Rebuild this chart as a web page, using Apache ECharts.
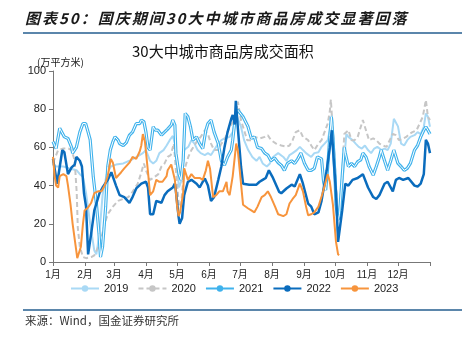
<!DOCTYPE html>
<html><head><meta charset="utf-8">
<script src="https://cdn.jsdelivr.net/npm/echarts@6/dist/echarts.min.js"></script>
<style>html,body{margin:0;padding:0;background:#fff}#c{width:462px;height:337px}</style>
</head><body><div id="c"></div>
<script>
const monthStarts = [0,31,59,90,120,151,181,212,243,273,304,334,365];
const monthLabels = ['1月','2月','3月','4月','5月','6月','7月','8月','9月','10月','11月','12月'];
const yTicks = [0,20,40,60,80,100];

const days2019 = [0,3,10,16,23,26,29,32,36,40,42,45,48,52,56,61,68,74,81,87,90,94,97,100,103,107,110,113,116,118,120,122,124,127,131,134,137,140,143,147,150,153,156,160,163,166,171,174,177,182,185,189,193,197,200,203,207,210,213,218,223,226,229,232,236,239,242,245,250,253,257,260,263,266,268,270,272,275,277,280,284,286,290,293,296,299,302,305,308,311,314,318,321,324,327,330,334,337,340,343,346,350,353,356,359,361,363,365];
const vals2019 = [51.5,50,50,49,48,46,44.6,36,20,6,4,15,35,46,50,51,51.6,53,55,57,58.6,53,51.6,53,57,58.6,61,63.8,66,62,50,39,42,58.6,60.3,63.8,62,58.6,57,56,57,56,58.6,62,63.8,64.7,65.5,68,77.8,70.8,63.8,58.6,55,53,55,51.6,50,51.6,55,57,55,53,56,57,58.6,60.3,58.6,57,55,57,57.5,60.3,62,63.8,69,77,60,30,22,40,67,65.5,63.8,62,60.3,59.4,61,58.6,57,59.4,60.3,58.6,59.4,58.6,62,75,71,62,61,63.8,65.5,66.4,68,67,70.8,77.8,76,70.8];

const days2020 = [0,5,10,15,18,21,23,24,26,29,32,37,40,44,47,50,53,58,63,68,73,77,82,85,88,90,94,97,102,105,108,111,114,117,119,122,124,127,131,134,137,140,143,147,150,153,156,160,163,166,171,176,179,182,185,188,192,195,200,205,208,211,216,221,226,229,232,235,239,242,247,250,253,257,260,266,268,269,272,275,277,280,282,286,289,292,295,298,300,303,306,310,313,316,319,323,326,329,332,335,339,342,345,348,352,355,358,361,363,365];
const vals2020 = [52,58.6,59.4,59.4,58.6,53,36,18,8,2.6,2,2.6,3.5,8,13,20,25,29,32,33,34,36.7,41,46,51.6,48,43,44,46,50,51.6,55,56,62,48,29,30,48,55,58.6,61,63.8,65.5,69,67,62,58.6,58.6,62,63.8,70.8,74.3,84,74.3,69,63.8,63.8,65.5,64.7,65.5,66.4,63.8,62,61,60.3,61,63.8,68,69,65.5,63.8,61,58.6,62,63.8,72.5,79,85,60,30,25,45,67,69,63.8,63.8,65.5,70.8,74.3,69,63.8,64.7,63.8,62,61,60.3,63.8,67,66.4,63.8,64.7,65.5,67,68,69,72.5,76,84.8,76,74.3];

const days2021 = [0,3,6.5,8,11,14.5,18,19,22.6,26,29,31.6,34,36,39,42,44.5,46,48,51,53,55.5,58,60,63,64.5,68,71,74,77,80.6,84,85.5,88,90,92,94,97,99,101.6,105,108,111,114.5,116,118,119,122,124,126,128,130.6,133,135.5,139,142,145,148,150,153,156,160,163,166,169,172.6,174,177,179,184,188.7,192,195,198,202,205,208,211,214.5,218,221,224,227,231,234,237,240,243.5,247,250,253,256,260,262,264,266,268,269.5,271,273,274,276,277.4,280,282,283,286,289,292,295,298,300,303,306,310,313,316,317.7,321,324,327,330,334,337,340,343,346,350,353,356,359,361,363,365];
const vals2021 = [63,59.4,70,69,65.5,64.7,60,57,60,68,72.5,72.5,68,64,44.6,30.6,15,2.6,8,29,50,58.6,63,65.5,63.8,62,61,62.5,66.4,68,72.5,72.5,74.3,73.5,68,60,58.6,70.8,69,69,66.4,68,69.6,71.7,74.3,71.7,57,46,43,53,77.8,76,71,63.8,65.5,62,59.4,69,72.5,74.3,68,62,53,50.7,55,58.6,63.8,78,79.5,76,71,64.7,65.5,60,59.4,57,56,53,54.5,52,50.7,48,51.6,53,51.6,54,57,51.6,48,48,49,55,54,42,37.7,50,65.6,76,65,45,30,22,25,45,60,57,50,51.6,50,52.5,53.5,57,55,50,45.5,50,55,58.6,53,48,53,58.6,51.6,50,48,49,51.6,58.6,61,65.5,69,70.8,69,67];

const days2022 = [0,4,9,11,14.5,18,21,22.6,26,28,30,32,34,35.5,37,40,45,48,53,56.5,61,64.5,69,74,77,80.6,85.5,90,92,94,97,100,105,108,111,116,118,119,121.6,122.6,125,127,130.6,134,139,142,145,147,150,153,156,160,163,166,169,172.6,174,176,177,179,182,184,190,197,200,203,206,209,213,219,221,226,231,234,239,242,247,250,253,257,260,265,268,270,271,274,276,277.4,280,283,286,290,295,300,305,310,313,316,321,324,329,332,335,339,344,350,353,356,359,361,363,365];
const vals2022 = [54,41,58.5,57.5,46,49.5,51,55,53,50,36,29,4,3,15,27,36,39,43,47,40,35,34,31,34,38.5,41,42,39,25,25,32,31,35,37,39,41,37,23.6,20,23,35,42,43,41,39,42,43.7,40,32,34,43,50,60,68,75,77,72,84.4,70,50,41,40.5,40.5,42,43,44,48,44,36.7,36,38.5,40.5,39.5,46,41,30.6,29,25,26,32,48,60,69,60,36,10.5,11,27,41,40,43,44,46,39,34,33,35,41,42,37,43,44,43,44,40,39.5,41,46,64,62,57];

const days2023 = [0,1.6,3,5,6.5,10,13,14.5,17,19,22,23.5,25,27,29,30.6,34,37,40,43.5,47,50,53,56,58,61,66,69,74,77,80.6,84,85.5,87,89,92,94,97,100,103,106,110,111,114.5,115.5,118,120,121.6,123,126,127,130.6,134,137,142,145,148,150,152,155,158,161,164.5,168,169,171,174,176,177.4,179,184,189,192,195,198,202,205,208,211,215,218,223,226,229,232,235,239,242,245,247,250,253,257,261,266,268,271,274,276,277];
const vals2023 = [55,45,40,39,45,46,45,40,30,20,8,2,1,8,20,27,28.5,31,36,37,37,40,45,54,52,44,47,49,52,55,54,58,61,67,63,47,35,37,43,42,42,45,48,51,52,43,30,24,26,36,49,43,46,44,44,43,48,53,49,34,35,37,37,42,37,35,45,55,62,58,30,28,27,26,29,34,35,37,34,29,25,24,25,30.6,33,35,41,37,29,24.5,25,26,29,36,46,42,30,10.5,4,3.5];

const headTitle = '图表50：国庆期间30大中城市商品房成交显著回落';

function pairs(d, v) { return d.map((x, i) => [x, v[i]]); }

const FONT = 'Liberation Sans, Arial, sans-serif';
const CJK = '"Noto Sans CJK SC", sans-serif';

// spaced heading, built char by char (letter spacing)
const headFont = 'italic bold 15px "Noto Sans CJK SC", sans-serif';
const ctx = document.createElement('canvas').getContext('2d');
ctx.font = headFont;
const headEls = [];
let hx = 25;
for (const ch of headTitle) {
  headEls.push({ type: 'text', x: hx, y: 18, style: { text: ch, font: headFont, fill: '#1a1a1a', textVerticalAlign: 'middle', verticalAlign: 'middle' } });
  hx += ctx.measureText(ch).width + 2;
}

const chart = echarts.init(document.getElementById('c'));
chart.setOption({
  animation: false,
  backgroundColor: '#fff',
  title: [
    { text: '30大中城市商品房成交面积', left: 132, top: 44, padding: 0,
      textStyle: { fontFamily: CJK, fontSize: 15, fontWeight: 'normal', color: '#111' } },
    { text: '(万平方米)', left: 37, top: 57, padding: 0,
      textStyle: { fontFamily: CJK, fontSize: 10, fontWeight: 'normal', color: '#222' } },
    { text: '来源：Wind，国金证券研究所', left: 25, top: 315, padding: 0,
      textStyle: { fontFamily: CJK, fontSize: 11.5, fontWeight: 'normal', color: '#333' } }
  ],
  graphic: headEls.concat([
    { type: 'rect', shape: { x: 23, y: 32, width: 439, height: 2 }, style: { fill: '#5b86ab' } },
    { type: 'rect', shape: { x: 23, y: 309, width: 439, height: 2 }, style: { fill: '#5b86ab' } }
  ]),
  grid: { left: 53, right: 32, top: 71, bottom: 75 },
  legend: {
    data: ['2019','2020','2021','2022','2023'],
    left: 70, top: 283, padding: 0, itemWidth: 28, itemHeight: 8, itemGap: 9,
    textStyle: { fontFamily: FONT, fontSize: 11, color: '#222' }
  },
  xAxis: {
    type: 'value', min: 0, max: 365,
    axisLine: { lineStyle: { color: '#777' } },
    axisTick: { show: true, customValues: monthStarts, length: 4, lineStyle: { color: '#777' } },
    axisLabel: {
      customValues: monthStarts.slice(0, 12),
      formatter: v => monthLabels[monthStarts.indexOf(v)] || '',
      fontFamily: FONT + ', ' + CJK, fontSize: 10, color: '#222', margin: 8
    },
    splitLine: { show: false }
  },
  yAxis: {
    type: 'value', min: yTicks[0], max: yTicks[yTicks.length - 1], interval: 20,
    axisLine: { show: true, lineStyle: { color: '#777' } },
    axisTick: { show: true, length: 4, lineStyle: { color: '#777' } },
    axisLabel: { fontFamily: FONT, fontSize: 11, color: '#222', margin: 7 },
    splitLine: { show: false }
  },
  series: [
    { name: '2019', type: 'line', data: pairs(days2019, vals2019), showSymbol: false, symbol: 'none',
      lineStyle: { color: '#a9d9f5', width: 2 }, itemStyle: { color: '#a9d9f5' } },
    { name: '2020', type: 'line', data: pairs(days2020, vals2020), showSymbol: false, symbol: 'none',
      lineStyle: { color: '#c6c6c6', width: 2, type: [5, 3] }, itemStyle: { color: '#c6c6c6' } },
    { name: '2021', type: 'line', data: pairs(days2021, vals2021), showSymbol: false, symbol: 'none',
      lineStyle: { color: '#3fb2ec', width: 3.2 }, itemStyle: { color: '#3fb2ec' } },
    { name: '2021', type: 'line', data: pairs(days2021, vals2021), showSymbol: false, symbol: 'none',
      lineStyle: { color: '#ffffff', width: 1 }, itemStyle: { color: '#3fb2ec' } },
    { name: '2022', type: 'line', data: pairs(days2022, vals2022), showSymbol: false, symbol: 'none',
      lineStyle: { color: '#0a6cbd', width: 2.5 }, itemStyle: { color: '#0a6cbd' } },
    { name: '2023', type: 'line', data: pairs(days2023, vals2023), showSymbol: false, symbol: 'none',
      lineStyle: { color: '#f7943c', width: 2 }, itemStyle: { color: '#f7943c' } }
  ]
});
</script></body></html>
